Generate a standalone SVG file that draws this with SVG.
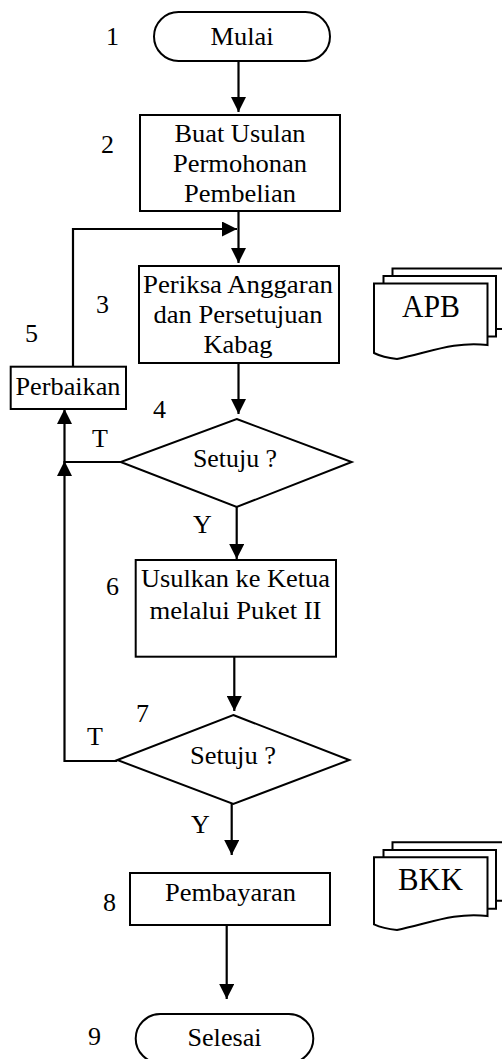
<svg xmlns="http://www.w3.org/2000/svg" width="502" height="1059" viewBox="0 0 502 1059">
  <style>
    .shape { fill: #fff; stroke: #000; stroke-width: 2; }
    .doc { fill: #fff; stroke: #000; stroke-width: 2; stroke-linejoin: miter; }
    .conn { fill: none; stroke: #000; stroke-width: 2.2; }
    text { font-family: "Liberation Serif", "Times New Roman", serif; font-size: 26px; fill: #000; }
    .c { text-anchor: middle; }
    .big { font-size: 31px; }
  </style>
  <defs>
    <marker id="arrow" markerUnits="userSpaceOnUse" markerWidth="15" markerHeight="15" refX="15" refY="7.5" orient="auto">
      <path d="M0,0 L15,7.5 L0,15 z" fill="#000"/>
    </marker>
  </defs>
  <rect width="502" height="1059" fill="#fff"/>

  <!-- connectors -->
  <g id="connectors">
    <path class="conn" d="M238.5,61 V112" marker-end="url(#arrow)"/>
    <path class="conn" d="M238.5,211 V263" marker-end="url(#arrow)"/>
    <path class="conn" d="M73,367 V229 H237" marker-end="url(#arrow)"/>
    <path class="conn" d="M238.5,363 V414" marker-end="url(#arrow)"/>
    <path class="conn" d="M120.7,462 H64.5 V409" marker-end="url(#arrow)"/>
    <path class="conn" d="M236.7,507 V559" marker-end="url(#arrow)"/>
    <path class="conn" d="M234.3,657 V711" marker-end="url(#arrow)"/>
    <path class="conn" d="M117.3,761 H64.5 V461" marker-end="url(#arrow)"/>
    <path class="conn" d="M231.7,804 V855" marker-end="url(#arrow)"/>
    <path class="conn" d="M226.7,925 V999" marker-end="url(#arrow)"/>
    <text x="92" y="447">T</text>
    <text x="87" y="745">T</text>
    <text x="193" y="533">Y</text>
    <text x="191" y="833">Y</text>
  </g>

  <g id="n1">
    <rect class="shape" x="154" y="12" width="176" height="49" rx="24.5"/>
    <text class="c" x="242" y="45" textLength="63" lengthAdjust="spacingAndGlyphs">Mulai</text>
    <text x="106" y="45">1</text>
  </g>

  <g id="n2">
    <rect class="shape" x="140" y="115" width="200" height="96"/>
    <text class="c" x="240" y="142" textLength="131" lengthAdjust="spacingAndGlyphs">Buat Usulan</text>
    <text class="c" x="240" y="172" textLength="134" lengthAdjust="spacingAndGlyphs">Permohonan</text>
    <text class="c" x="240" y="202" textLength="112" lengthAdjust="spacingAndGlyphs">Pembelian</text>
    <text x="101" y="153">2</text>
  </g>

  <g id="n3">
    <rect class="shape" x="139" y="266" width="200" height="97"/>
    <text class="c" x="238" y="293" textLength="190" lengthAdjust="spacingAndGlyphs">Periksa Anggaran</text>
    <text class="c" x="238" y="323" textLength="169" lengthAdjust="spacingAndGlyphs">dan Persetujuan</text>
    <text class="c" x="238" y="353" textLength="69" lengthAdjust="spacingAndGlyphs">Kabag</text>
    <text x="96" y="313">3</text>
  </g>

  <g id="apb">
    <path class="doc" d="M392.5,330 V268.5 H503 V329 H496"/>
    <path class="doc" d="M383.5,336.5 V276 H496 V336.5 H488"/>
    <path class="doc" d="M374,353 V283.5 H487.5 V345 C455,341 430,352 397,359 C388,358 380,356 374,353 z"/>
    <text class="c big" x="431" y="317" textLength="58" lengthAdjust="spacingAndGlyphs">APB</text>
  </g>

  <g id="n5">
    <rect class="shape" x="10.7" y="366.7" width="115.3" height="42.3"/>
    <text class="c" x="68" y="395" textLength="105" lengthAdjust="spacingAndGlyphs">Perbaikan</text>
    <text x="25" y="342">5</text>
  </g>

  <g id="n4">
    <polygon class="shape" points="236.7,419 351.7,462 236.7,507 120.7,462"/>
    <text class="c" x="235" y="467" textLength="84" lengthAdjust="spacingAndGlyphs">Setuju ?</text>
    <text x="153" y="418">4</text>
  </g>

  <g id="n6">
    <rect class="shape" x="135.7" y="560" width="200.3" height="96.7"/>
    <text class="c" x="235.5" y="587" textLength="189" lengthAdjust="spacingAndGlyphs">Usulkan ke Ketua</text>
    <text class="c" x="235.5" y="619" textLength="172" lengthAdjust="spacingAndGlyphs">melalui Puket II</text>
    <text x="106" y="595">6</text>
  </g>

  <g id="n7">
    <polygon class="shape" points="233.3,715 349.3,760 233.3,804 117.3,760"/>
    <text class="c" x="233" y="764" textLength="86" lengthAdjust="spacingAndGlyphs">Setuju ?</text>
    <text x="136" y="722">7</text>
  </g>

  <g id="n8">
    <rect class="shape" x="130" y="873" width="200" height="52"/>
    <text class="c" x="230.5" y="901" textLength="131" lengthAdjust="spacingAndGlyphs">Pembayaran</text>
    <text x="103" y="911">8</text>
  </g>

  <g id="bkk">
    <path class="doc" d="M392.5,901 V842.3 H503 V900.7 H496"/>
    <path class="doc" d="M383.5,908.7 V850 H496 V908.7 H488"/>
    <path class="doc" d="M374,924.3 V857.3 H487.5 V916 C455,912 430,923 397,930 C388,929 380,927 374,924.3 z"/>
    <text class="c big" x="430.5" y="890" textLength="65" lengthAdjust="spacingAndGlyphs">BKK</text>
  </g>

  <g id="n9">
    <rect class="shape" x="135.7" y="1014" width="177.6" height="49" rx="24.5"/>
    <text class="c" x="224.5" y="1046" textLength="74" lengthAdjust="spacingAndGlyphs">Selesai</text>
    <text x="88" y="1045">9</text>
  </g>
</svg>
